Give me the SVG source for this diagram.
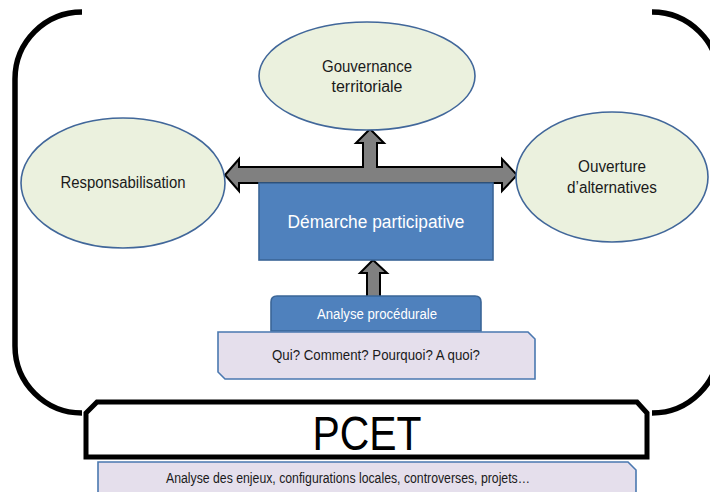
<svg xmlns="http://www.w3.org/2000/svg" width="710" height="492" viewBox="0 0 710 492">
<style>
.bracket{fill:none;stroke:#000;stroke-width:5.5;}
.ell{fill:#ebf1de;stroke:#41679a;stroke-width:1.6;}
.blue{fill:#4f81bd;stroke:#3a6597;stroke-width:1.6;}
.lav{fill:#e5dfec;stroke:#4a78b0;stroke-width:1.6;}
.arrow{fill:#808080;stroke:#000;stroke-width:2;stroke-linejoin:miter;}
text{font-family:"Liberation Sans",Arial,sans-serif;text-anchor:middle;}
.dark{fill:#1a1a1a;font-size:16px;}
.white{fill:#fff;}
.small{fill:#1a1a1a;font-size:14px;}
</style>
<rect width="710" height="492" fill="#fff"/>
<g id="frame">
<path class="bracket" d="M82,12 A67,67 0 0 0 15,79 L15,346 A67,67 0 0 0 82,413"/>
<path class="bracket" d="M652,12 A67,67 0 0 1 719,79 L719,346 A67,67 0 0 1 652,413"/>
</g>
<g id="connectors">
<polygon class="arrow" points="225,175 239,159 239,167 363,167 363,143 356,143 370,129 384,143 377,143 377,167 502,167 502,159 517,175 502,191 502,183 239,183 239,191"/>
<polygon class="arrow" points="373,260 387,273 380,273 380,297 367,297 367,273 360,273"/>
</g>
<g id="gouvernance">
<ellipse class="ell" cx="367" cy="76" rx="108" ry="54"/>
<text class="dark" x="367" y="72" textLength="90" lengthAdjust="spacingAndGlyphs">Gouvernance</text>
<text class="dark" x="367" y="92" textLength="71" lengthAdjust="spacingAndGlyphs">territoriale</text>
</g>
<g id="responsabilisation">
<ellipse class="ell" cx="123" cy="183" rx="102" ry="65"/>
<text class="dark" x="123" y="188" textLength="125" lengthAdjust="spacingAndGlyphs">Responsabilisation</text>
</g>
<g id="ouverture">
<ellipse class="ell" cx="612" cy="177" rx="96" ry="65"/>
<text class="dark" x="612" y="172" textLength="68" lengthAdjust="spacingAndGlyphs">Ouverture</text>
<text class="dark" x="612" y="193" textLength="90" lengthAdjust="spacingAndGlyphs">d’alternatives</text>
</g>
<g id="demarche">
<rect class="blue" x="259" y="183" width="234" height="77"/>
<text class="white" x="376" y="228" font-size="18" textLength="177" lengthAdjust="spacingAndGlyphs">Démarche participative</text>
</g>
<g id="analyse-procedurale">
<path class="blue" d="M271,331 L271,302 Q271,296 277,296 L475,296 Q481,296 481,302 L481,331 Z"/>
<text class="white" x="377" y="319" font-size="14" textLength="120" lengthAdjust="spacingAndGlyphs">Analyse procédurale</text>
</g>
<g id="questions">
<path class="lav" d="M218,332 L528,332 L535,339 L535,379 L225,379 L218,372 Z"/>
<text class="small" x="376" y="360" textLength="208" lengthAdjust="spacingAndGlyphs">Qui? Comment? Pourquoi? A quoi?</text>
</g>
<g id="pcet">
<path fill="#fff" stroke="#000" stroke-width="5" d="M86,457 L86,413 L97,402 L637,402 L647,413 L647,457 Z"/>
<text x="367" y="450" font-size="48" fill="#000" textLength="109" lengthAdjust="spacingAndGlyphs">PCET</text>
</g>
<g id="enjeux">
<path class="lav" d="M98,496 L98,462 L628,462 L636,470 L636,496 Z"/>
<text class="small" x="348" y="483" textLength="364" lengthAdjust="spacingAndGlyphs">Analyse des enjeux, configurations locales, controverses, projets…</text>
</g>
</svg>
